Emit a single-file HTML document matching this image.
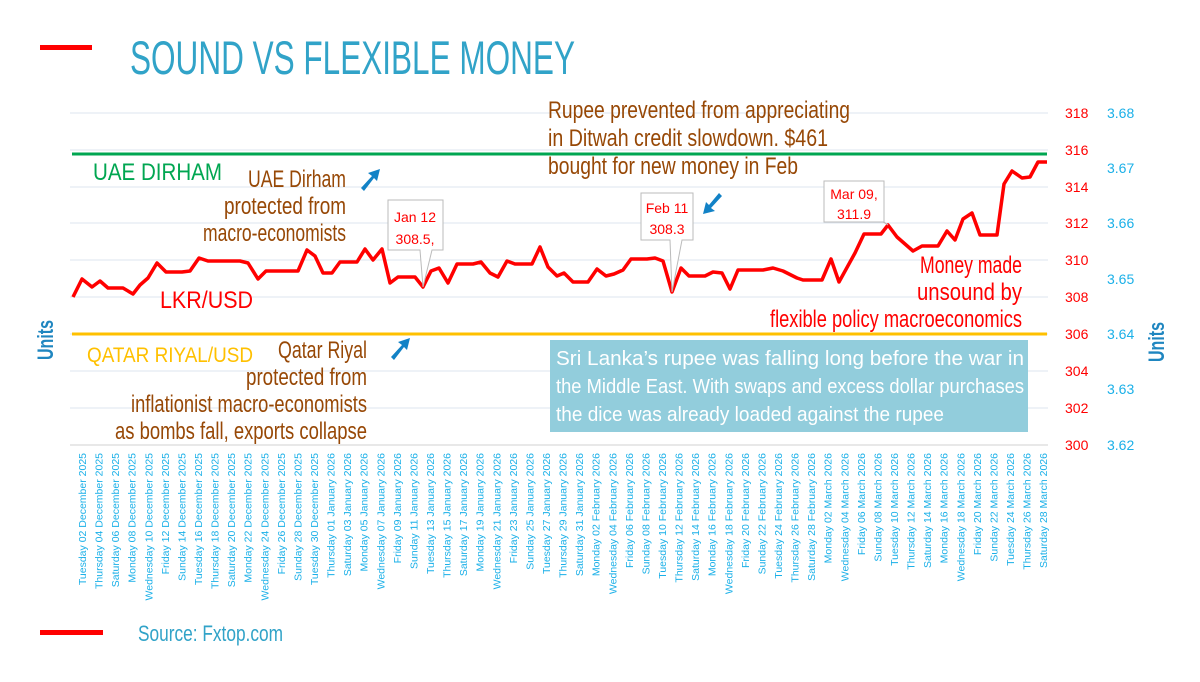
<!DOCTYPE html>
<html><head><meta charset="utf-8"><style>
body{margin:0;background:#fff;width:1200px;height:677px;overflow:hidden}
svg text{font-family:"Liberation Sans Narrow","Liberation Sans",sans-serif}
</style></head><body>
<svg width="1200" height="677" viewBox="0 0 1200 677" xmlns="http://www.w3.org/2000/svg">
<rect x="40" y="45" width="52" height="5" fill="#f00"/>
<text x="130" y="74" font-size="47" fill="#31A3C8" textLength="445" lengthAdjust="spacingAndGlyphs">SOUND VS FLEXIBLE MONEY</text>
<g stroke="#dde6ef" stroke-width="1">
<line x1="70" x2="1048" y1="113" y2="113"/><line x1="70" x2="1048" y1="150" y2="150"/>
<line x1="70" x2="1048" y1="187" y2="187"/><line x1="70" x2="1048" y1="223" y2="223"/>
<line x1="70" x2="1048" y1="260" y2="260"/><line x1="70" x2="1048" y1="297" y2="297"/>
<line x1="70" x2="1048" y1="334" y2="334"/><line x1="70" x2="1048" y1="371" y2="371"/>
<line x1="70" x2="1048" y1="408" y2="408"/></g>
<line x1="70" x2="1048" y1="445" y2="445" stroke="#d0d0d0"/>
<line x1="72" x2="1047" y1="154" y2="154" stroke="#00A651" stroke-width="3"/>
<line x1="72" x2="1047" y1="334" y2="334" stroke="#FFC000" stroke-width="3"/>
<g font-family="Liberation Sans" font-size="14" text-anchor="start">
<g fill="#f00"><text x="1065" y="118">318</text><text x="1065" y="155">316</text><text x="1065" y="192">314</text><text x="1065" y="228">312</text><text x="1065" y="265">310</text><text x="1065" y="302">308</text><text x="1065" y="339">306</text><text x="1065" y="376">304</text><text x="1065" y="413">302</text><text x="1065" y="450">300</text></g>
<g fill="#1BB0E8"><text x="1107" y="118">3.68</text><text x="1107" y="173">3.67</text><text x="1107" y="228">3.66</text><text x="1107" y="284">3.65</text><text x="1107" y="339">3.64</text><text x="1107" y="394">3.63</text><text x="1107" y="450">3.62</text></g></g>
<text transform="translate(1164,342) rotate(-90)" text-anchor="middle" font-size="22" fill="#1F86C0" font-weight="bold" textLength="40" lengthAdjust="spacingAndGlyphs">Units</text>
<text transform="translate(53,340) rotate(-90)" text-anchor="middle" font-size="22" fill="#1F86C0" font-weight="bold" textLength="40" lengthAdjust="spacingAndGlyphs">Units</text>
<polyline fill="none" stroke="#f00" stroke-width="3.5" stroke-linejoin="round" points="73,297 82,279 92,287 100,281 108,288 123,288 133,294 140,285 148,278 157,263 166,272 182,272 190,271 199,258 208,261 216,261 240,261 248,263 258,279 266,271 298,271 307,250 315,256 323,273 332,273 340,262 357,262 365,249 373,260 382,249 390,283 398,277 415,277 423,287 431,271 439,268 448,283 457,264 473,264 481,262 490,273 498,277 507,261 515,264 532,264 540,247 548,267 557,276 564,273 573,282 588,282 597,269 606,276 614,274 623,270 631,259 647,259 655,258 663,261 672,292 681,268 689,276 705,276 713,272 722,273 730,289 738,270 763,270 773,268 783,271 797,278 803,280 822,280 831,259 839,282 855,253 864,234 881,234 888,225 897,237 913,251 922,246 938,246 947,231 955,240 963,219 972,213 980,235 997,235 1004,184 1012,171 1022,178 1030,177 1038,162 1047,162"/>
<g font-family="Liberation Sans" font-size="14" fill="#f00" text-anchor="middle">
<path d="M388,200 H443 V250 H432 L423,287 L420,250 H388 Z" fill="#fff" stroke="#bbb"/>
<text x="415" y="222">Jan 12</text><text x="415" y="244">308.5,</text>
<path d="M641,193 H693 V240 H682 L672,292 L670,240 H641 Z" fill="#fff" stroke="#bbb"/>
<text x="667" y="213">Feb 11</text><text x="667" y="234">308.3</text>
<path d="M824,181 H884 V222 L888,225 L883,222 H824 Z" fill="#fff" stroke="#bbb"/>
<text x="854" y="199">Mar 09,</text><text x="854" y="219">311.9</text></g>
<g font-size="24" fill="#974806" lengthAdjust="spacingAndGlyphs">
<text x="548" y="118" textLength="302" lengthAdjust="spacingAndGlyphs">Rupee prevented from  appreciating</text>
<text x="548" y="146" textLength="280" lengthAdjust="spacingAndGlyphs">in Ditwah credit slowdown. $461</text>
<text x="548" y="174" textLength="250" lengthAdjust="spacingAndGlyphs">bought for new money in Feb</text>
<text x="248" y="187" textLength="98" lengthAdjust="spacingAndGlyphs">UAE Dirham</text>
<text x="224" y="214" textLength="122" lengthAdjust="spacingAndGlyphs">protected from</text>
<text x="203" y="241" textLength="143" lengthAdjust="spacingAndGlyphs">macro-economists</text>
<text x="278" y="358" textLength="89" lengthAdjust="spacingAndGlyphs">Qatar Riyal</text>
<text x="246" y="385" textLength="121" lengthAdjust="spacingAndGlyphs">protected from</text>
<text x="131" y="412" textLength="236" lengthAdjust="spacingAndGlyphs">inflationist macro-economists</text>
<text x="115" y="439" textLength="252" lengthAdjust="spacingAndGlyphs">as bombs fall, exports collapse</text></g>
<text x="93" y="180" font-size="24" fill="#00A651" textLength="129" lengthAdjust="spacingAndGlyphs">UAE  DIRHAM</text>
<text x="160" y="308" font-size="24" fill="#f00" textLength="93" lengthAdjust="spacingAndGlyphs">LKR/USD</text>
<text x="87" y="362" font-size="21" fill="#FFC000" textLength="166" lengthAdjust="spacingAndGlyphs">QATAR  RIYAL/USD</text>
<g font-size="24" fill="#f00">
<text x="920" y="273" textLength="102" lengthAdjust="spacingAndGlyphs">Money made</text>
<text x="917" y="300" textLength="105" lengthAdjust="spacingAndGlyphs">unsound by</text>
<text x="770" y="327" textLength="252" lengthAdjust="spacingAndGlyphs">flexible policy macroeconomics</text></g>
<rect x="550" y="340" width="478" height="92" fill="#92CDDC"/>
<g font-size="20" fill="#fff">
<text x="556" y="365" textLength="468" lengthAdjust="spacingAndGlyphs">Sri Lanka’s rupee was falling long before the war in</text>
<text x="556" y="393" textLength="468" lengthAdjust="spacingAndGlyphs">the Middle East. With swaps and excess dollar purchases</text>
<text x="556" y="421" textLength="388" lengthAdjust="spacingAndGlyphs">the dice was already loaded against the rupee</text></g>
<g fill="#1282C6">
<path d="M361,188 L372,176 L368,173 L380,169 L377,181 L374,178 L364,191 Z"/>
<path d="M391,357 L402,345 L398,342 L410,338 L407,350 L404,347 L394,360 Z"/>
<path d="M722,196 L711,208 L715,211 L703,214 L706,202 L709,205 L719,193 Z"/></g>
<g font-family="Liberation Sans" font-size="10.5" fill="#1BB0E8" text-anchor="end">
<text transform="translate(86,453) rotate(-90)">Tuesday 02 December 2025</text>
<text transform="translate(102.6,453) rotate(-90)">Thursday 04 December 2025</text>
<text transform="translate(119.1,453) rotate(-90)">Saturday 06 December 2025</text>
<text transform="translate(135.7,453) rotate(-90)">Monday 08 December 2025</text>
<text transform="translate(152.3,453) rotate(-90)">Wednesday 10 December 2025</text>
<text transform="translate(168.8,453) rotate(-90)">Friday 12 December 2025</text>
<text transform="translate(185.4,453) rotate(-90)">Sunday 14 December 2025</text>
<text transform="translate(202,453) rotate(-90)">Tuesday 16 December 2025</text>
<text transform="translate(218.6,453) rotate(-90)">Thursday 18 December 2025</text>
<text transform="translate(235.1,453) rotate(-90)">Saturday 20 December 2025</text>
<text transform="translate(251.7,453) rotate(-90)">Monday 22 December 2025</text>
<text transform="translate(268.3,453) rotate(-90)">Wednesday 24 December 2025</text>
<text transform="translate(284.8,453) rotate(-90)">Friday 26 December 2025</text>
<text transform="translate(301.4,453) rotate(-90)">Sunday 28 December 2025</text>
<text transform="translate(318,453) rotate(-90)">Tuesday 30 December 2025</text>
<text transform="translate(334.6,453) rotate(-90)">Thursday 01 January 2026</text>
<text transform="translate(351.1,453) rotate(-90)">Saturday 03 January 2026</text>
<text transform="translate(367.7,453) rotate(-90)">Monday 05 January 2026</text>
<text transform="translate(384.3,453) rotate(-90)">Wednesday 07 January 2026</text>
<text transform="translate(400.8,453) rotate(-90)">Friday 09 January 2026</text>
<text transform="translate(417.4,453) rotate(-90)">Sunday 11 January 2026</text>
<text transform="translate(434,453) rotate(-90)">Tuesday 13 January 2026</text>
<text transform="translate(450.6,453) rotate(-90)">Thursday 15 January 2026</text>
<text transform="translate(467.1,453) rotate(-90)">Saturday 17 January 2026</text>
<text transform="translate(483.7,453) rotate(-90)">Monday 19 January 2026</text>
<text transform="translate(500.3,453) rotate(-90)">Wednesday 21 January 2026</text>
<text transform="translate(516.8,453) rotate(-90)">Friday 23 January 2026</text>
<text transform="translate(533.4,453) rotate(-90)">Sunday 25 January 2026</text>
<text transform="translate(550,453) rotate(-90)">Tuesday 27 January 2026</text>
<text transform="translate(566.6,453) rotate(-90)">Thursday 29 January 2026</text>
<text transform="translate(583.1,453) rotate(-90)">Saturday 31 January 2026</text>
<text transform="translate(599.7,453) rotate(-90)">Monday 02 February 2026</text>
<text transform="translate(616.3,453) rotate(-90)">Wednesday 04 February 2026</text>
<text transform="translate(632.8,453) rotate(-90)">Friday 06 February 2026</text>
<text transform="translate(649.4,453) rotate(-90)">Sunday 08 February 2026</text>
<text transform="translate(666,453) rotate(-90)">Tuesday 10 February 2026</text>
<text transform="translate(682.6,453) rotate(-90)">Thursday 12 February 2026</text>
<text transform="translate(699.1,453) rotate(-90)">Saturday 14 February 2026</text>
<text transform="translate(715.7,453) rotate(-90)">Monday 16 February 2026</text>
<text transform="translate(732.3,453) rotate(-90)">Wednesday 18 February 2026</text>
<text transform="translate(748.8,453) rotate(-90)">Friday 20 February 2026</text>
<text transform="translate(765.4,453) rotate(-90)">Sunday 22 February 2026</text>
<text transform="translate(782,453) rotate(-90)">Tuesday 24 February 2026</text>
<text transform="translate(798.6,453) rotate(-90)">Thursday 26 February 2026</text>
<text transform="translate(815.1,453) rotate(-90)">Saturday 28 February 2026</text>
<text transform="translate(831.7,453) rotate(-90)">Monday 02 March 2026</text>
<text transform="translate(848.3,453) rotate(-90)">Wednesday 04 March 2026</text>
<text transform="translate(864.8,453) rotate(-90)">Friday 06 March 2026</text>
<text transform="translate(881.4,453) rotate(-90)">Sunday 08 March 2026</text>
<text transform="translate(898,453) rotate(-90)">Tuesday 10 March 2026</text>
<text transform="translate(914.6,453) rotate(-90)">Thursday 12 March 2026</text>
<text transform="translate(931.1,453) rotate(-90)">Saturday 14 March 2026</text>
<text transform="translate(947.7,453) rotate(-90)">Monday 16 March 2026</text>
<text transform="translate(964.3,453) rotate(-90)">Wednesday 18 March 2026</text>
<text transform="translate(980.8,453) rotate(-90)">Friday 20 March 2026</text>
<text transform="translate(997.4,453) rotate(-90)">Sunday 22 March 2026</text>
<text transform="translate(1014,453) rotate(-90)">Tuesday 24 March 2026</text>
<text transform="translate(1030.6,453) rotate(-90)">Thursday 26 March 2026</text>
<text transform="translate(1047.1,453) rotate(-90)">Saturday 28 March 2026</text>
</g>
<rect x="40" y="630" width="63" height="5" fill="#f00"/>
<text x="138" y="641" font-size="22" fill="#31A3C8" textLength="145" lengthAdjust="spacingAndGlyphs">Source: Fxtop.com</text>
</svg>
</body></html>
